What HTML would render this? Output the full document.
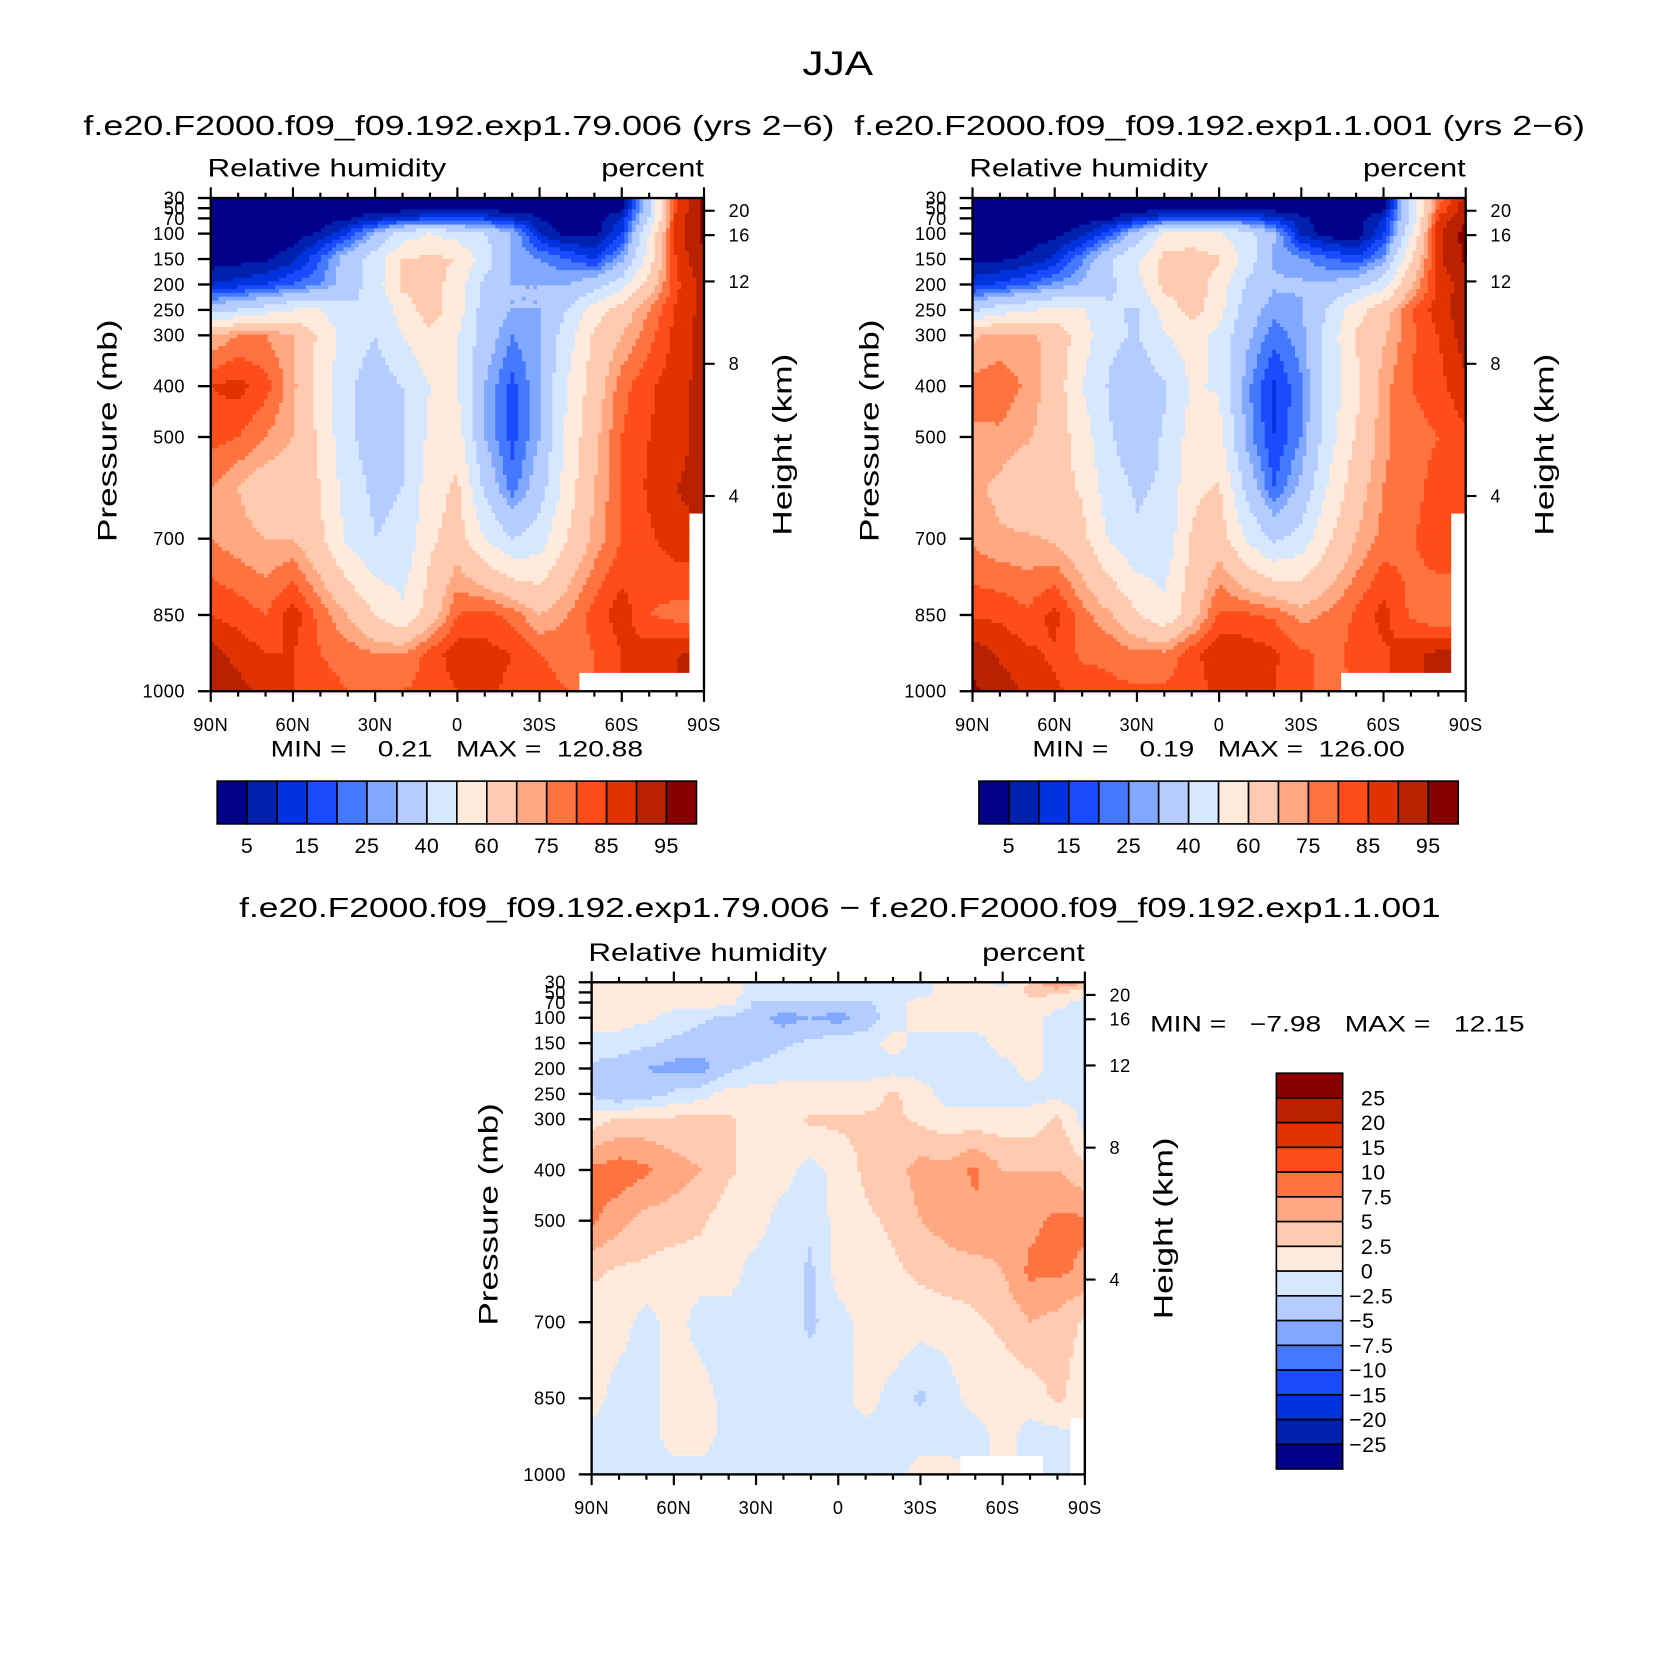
<!DOCTYPE html>
<html><head><meta charset="utf-8"><style>
html,body{margin:0;padding:0;background:#fff;}
svg text{font-family:"Liberation Sans",sans-serif;fill:#000;}
</style></head><body>
<svg id="fig" xmlns="http://www.w3.org/2000/svg" width="1669" height="1666" viewBox="0 0 1560 1557">
<rect x="0" y="0" width="1560" height="1557" fill="#fff"/>
<text x="783" y="70" font-size="32" text-anchor="middle" textLength="66" lengthAdjust="spacingAndGlyphs">JJA</text>
</svg>
<script>
// ---------- data ----------
const lats = [90,80,70,60,50,40,30,20,10,0,-10,-20,-30,-40,-50,-60,-70,-80,-90];
const levels = [30,50,70,100,150,200,250,300,400,500,600,700,850,925,1000];
const rh1 = [
[2,2,2,2,2,2,2,2,2,2,2,2,2,2,2,2,40,85,96],
[2,2,2,2,2,2,2,2,2,2,2,2,2,2,2,2,40,85,96],
[2,2,2,2,2,4,8,12,15,15,14,10,5,2,2,10,40,88,96],
[2,2,2,2,6,15,30,45,50,45,40,30,10,3,3,15,50,88,96],
[2,3,4,8,20,35,45,60,62,60,45,30,25,20,15,28,55,86,95],
[10,12,15,20,25,35,45,62,65,55,38,30,30,30,35,45,65,84,92],
[35,40,45,50,50,42,40,55,65,55,35,30,30,40,55,65,75,86,92],
[70,75,75,70,58,45,40,50,58,50,35,25,30,45,62,70,78,87,92],
[85,87,82,72,55,42,35,40,50,50,30,18,30,50,65,78,84,88,92],
[82,80,75,70,58,42,35,40,52,55,30,18,30,52,68,80,85,88,92],
[75,70,65,65,60,45,38,40,55,62,38,22,35,55,70,80,86,90,92],
[75,72,70,70,62,48,40,42,58,65,50,40,45,60,72,80,84,88,null],
[85,83,80,88,78,70,60,52,65,80,82,78,70,75,82,88,80,78,null],
[92,88,85,85,80,78,75,75,82,88,87,85,80,78,80,85,88,90,null],
[95,92,88,85,82,80,80,80,82,85,86,84,82,80,null,null,null,null,null]];
const rh2 = [
[2,2,2,2,2,2,2,2,2,2,2,2,2,2,2,2,42,78,92],
[2,2,2,2,2,2,2,2,2,2,2,2,2,2,2,2,42,80,94],
[2,2,2,2,2,4,10,15,18,18,17,12,6,2,2,10,42,86,95],
[2,2,2,3,8,18,34,51,55,51,44,31,9,2,2,14,49,89,97],
[3,4,6,11,24,39,49,63,64,61,46,29,26,21,16,27,59,89,96],
[13,16,20,26,31,38,47,63,66,56,39,31,31,31,36,46,69,86,93],
[38,45,49,52,51,41,39,54,64,54,34,27,29,41,56,66,79,88,93],
[69,72,72,67,55,42,39,49,55,47,32,22,28,44,61,69,79,85,93],
[77,78,74,66,50,39,34,39,51,49,27,14,24,44,57,73,80,83,89],
[74,74,71,66,55,41,34,41,54,54,28,15,25,46,61,74,78,80,84],
[72,68,63,64,59,44,39,41,58,61,37,20,32,51,66,75,78,82,85],
[74,71,71,69,63,49,41,43,61,66,49,38,44,59,70,77,79,84,null],
[84,84,81,87,77,71,61,53,66,81,81,79,73,76,81,87,79,75,null],
[93,89,86,84,79,79,76,76,83,89,88,86,81,79,81,84,89,91,null],
[96,93,89,86,83,81,81,81,83,86,87,85,81,79,null,null,null,null,null]];
const rhDiff = [
[1,1,1,1,1,1,-1,-1,-1,-1,-1,-1,-1,1,1,-1,3,8,5],
[1,1,1,1,1,1,-1,-1,-1,-1,-1,-1,-1,1,1,1,3,3,1],
[1,1,1,1,1,1,-3,-3,-3,-3,-3,-1,1,1,1,1,2,1,-1],
[1,1,0.5,-1,-2,-3,-4,-6,-5,-6,-4,-1,1,1,1,1,1,-1,-1],
[-1,-1,-2,-3,-4,-4,-4,-3,-2,-1,-1,1,-1,-1,-1,1,1,-1,-1],
[-3,-4,-5,-6,-6,-3,-2,-1,-1,-1,-1,-1,-1,-1,-1,-1,1,-1,-1],
[-3,-5,-4,-2,-1,1,1,1,1,1,1,3,1,-1,-1,-1,-1,-1,-1],
[1,3,3,3,3,3,1,1,3,3,3,3,2,1,1,1,1,3,-1],
[8,9,8,6,5,3,1,1,-1,1,3,4,6,6,8,5,5,5,3],
[8,6,4,4,3,1,1,-1,-2,1,2,3,5,6,7,6,7,8,8],
[3,2,2,1,1,1,-1,-1,-3,1,1,2,3,4,4,5,8,8,7],
[1,1,-1,1,-1,-1,-1,-1,-3,-1,1,2,1,1,2,3,5,4,2],
[1,-1,-1,1,1,-1,-1,-1,-1,-1,1,-1,-3,-1,1,1,1,3,1],
[-1,-1,-1,1,1,-1,-1,-1,-1,-1,-1,-1,-1,-1,-1,1,-1,-1,null],
[-1,-1,-1,-1,-1,-1,-1,-1,-1,-1,-1,-1,1,1,null,null,null,-1,null]];
const rhLevels = [5,10,15,20,25,30,40,50,60,70,75,80,85,90,95];
const rhLabels = ["5","15","25","40","60","75","85","95"];
const diffLevels = [-25,-20,-15,-10,-7.5,-5,-2.5,0,2.5,5,7.5,10,15,20,25];
const diffLabels = ["25","20","15","10","7.5","5","2.5","0","\u22122.5","\u22125","\u22127.5","\u221210","\u221215","\u221220","\u221225"];
const palette = ["#00008a","#0020b0","#0033dd","#1a4cff","#4478ff","#80a8ff","#b4ccff","#d6e8ff","#ffeadb","#ffcab0","#ffa881","#ff7340","#ff4d1a","#e03300","#b82200","#8a0000"];
const pTicks = [30,50,70,100,150,200,250,300,400,500,700,850,1000];
const latTicks = [90,60,30,0,-30,-60,-90];
const latTickLabels = ["90N","60N","30N","0","30S","60S","90S"];
const heightKm = [20,16,12,8,4];
const heightP = [55,103,194,356,616];

// ---------- drawing ----------
const NS="http://www.w3.org/2000/svg";
const svg=document.getElementById('fig');
function mk(tag,attrs,parent){const e=document.createElementNS(NS,tag);for(const k in attrs)e.setAttribute(k,attrs[k]);(parent||svg).appendChild(e);return e;}
function txt(str,x,y,size,anchor,parent,extra){const t=mk('text',Object.assign({x:x,y:y,'font-size':size,'text-anchor':anchor||'start'},extra||{}),parent);t.textContent=str;return t;}

function colorIdx(v,lv){let i=0;while(i<lv.length&&v>=lv[i])i++;return i;}
function sample(grid,lat,p){
  let j=0;while(j<lats.length-2&&lat<lats[j+1])j++;
  let i=0;while(i<levels.length-2&&p>levels[i+1])i++;
  const fx=(lats[j]-lat)/(lats[j]-lats[j+1]);
  const fy=(p-levels[i])/(levels[i+1]-levels[i]);
  const nj=fx<0.5?j:j+1, ni=fy<0.5?i:i+1;
  if(grid[ni][nj]===null)return null;
  const c=[[grid[i][j],(1-fx)*(1-fy)],[grid[i][j+1],fx*(1-fy)],[grid[i+1][j],(1-fx)*fy],[grid[i+1][j+1],fx*fy]];
  let s=0,w=0;for(const [v,ww] of c){if(v!==null){s+=v*ww;w+=ww;}}
  return w>0?s/w:null;
}

function panel(name,grid,lv,x0,y0,W,H){
  const g=mk('g',{});
  
  
  const xs=lat=>x0+(90-lat)/180*W;
  const ys=p=>y0+(p-30)/970*H;
  const NX=130,NY=130,dx=W/NX,dy=H/NY;
  for(let r=0;r<NY;r++){
    const p=30+(r+0.5)/NY*970;
    let runStart=0,runC=null;
    for(let c=0;c<=NX;c++){
      let ci=null;
      if(c<NX){const lat=90-(c+0.5)/NX*180;const v=sample(grid,lat,p);ci=v===null?null:colorIdx(v,lv);}
      if(c===NX||ci!==runC){
        if(runC!==null&&c>runStart){
          const rc=mk('rect',{x:(x0+runStart*dx).toFixed(2),y:(y0+r*dy).toFixed(2),width:((c-runStart)*dx+0.6).toFixed(2),height:(dy+0.6).toFixed(2),fill:palette[runC]},g);
          
          
        }
        runStart=c;runC=ci;
      }
    }
  }
  const fr=mk('rect',{x:x0,y:y0,width:W,height:H,fill:'none',stroke:'#000','stroke-width':2.2},g);
  
  
  for(let lat=90;lat>=-90;lat-=10){
    const x=xs(lat);const major=lat%30===0;const L=major?10:5;
    mk('line',{x1:x,y1:y0+H,x2:x,y2:y0+H+L,stroke:'#000','stroke-width':2},g);
    mk('line',{x1:x,y1:y0,x2:x,y2:y0-L,stroke:'#000','stroke-width':2},g);
  }
  latTicks.forEach((lat,k)=>{
    const t=txt(latTickLabels[k],xs(lat),y0+H+37,17,'middle',g,{'letter-spacing':'0.5'});
    
    
  });
  pTicks.forEach(p=>{
    const y=ys(p);
    mk('line',{x1:x0-12,y1:y,x2:x0,y2:y,stroke:'#000','stroke-width':2.2},g);
    const t=txt(String(p),x0-24,y+6,17,'end',g,{'letter-spacing':'0.5'});
    
    
  });
  heightKm.forEach((h,k)=>{
    const y=ys(heightP[k]);
    mk('line',{x1:x0+W,y1:y,x2:x0+W+10,y2:y,stroke:'#000','stroke-width':2},g);
    const t=txt(String(h),x0+W+23,y+6,17,'start',g,{'letter-spacing':'0.5'});
    
    
  });
  const lt=txt('Relative humidity',x0-3,y0-20,23,'start',g,{textLength:223,lengthAdjust:'spacingAndGlyphs'});
  
  
  const ut=txt('percent',x0+W,y0-20,23,'end',g,{textLength:96,lengthAdjust:'spacingAndGlyphs'});
  
  
  const ya=txt('Pressure (mb)',0,0,25,'middle',g,{transform:`translate(${x0-88},${y0+H/2-13}) rotate(-90)`,textLength:208,lengthAdjust:'spacingAndGlyphs'});
  
  
  const ya2=txt('Height (km)',0,0,25,'middle',g,{transform:`translate(${x0+W+82},${y0+H/2}) rotate(-90)`,textLength:170,lengthAdjust:'spacingAndGlyphs'});
  
  
  return g;
}

function hbar(name,x0,y0,W,H){
  const g=mk('g',{});
  
  
  const bw=W/palette.length;
  palette.forEach((c,k)=>{
    const r=mk('rect',{x:x0+k*bw,y:y0,width:bw,height:H,fill:c,stroke:'#000','stroke-width':1.5},g);
    
    
  });
  rhLabels.forEach((l,k)=>{
    const t=txt(l,x0+(1+2*k)*bw,y0+H+27,20,'middle',g,{'letter-spacing':'0.5'});
    
    
  });
}
function vbar(name,x0,y0,W,H){
  const g=mk('g',{});
  
  
  const bh=H/palette.length;
  palette.slice().reverse().forEach((c,k)=>{
    const r=mk('rect',{x:x0,y:y0+k*bh,width:W,height:bh,fill:c,stroke:'#000','stroke-width':1.5},g);
    
    
  });
  diffLabels.forEach((l,k)=>{
    const t=txt(l,x0+W+(l.startsWith('\u2212')?6:17),y0+(k+1)*bh+7,20,'start',g,{'letter-spacing':'0.5'});
    
    
  });
}

panel('panel-exp79',rh1,rhLevels,197,185,461,461);
panel('panel-exp1',rh2,rhLevels,909,185,461,461);
panel('panel-difference',rhDiff,diffLevels,553,918,461,460);
hbar('colorbar-exp79',203,730,448,40);
hbar('colorbar-exp1',915,730,448,40);
vbar('colorbar-difference',1193,1003,62,370);

function label(name,str,x,y,size,anchor,len){const t=txt(str,x,y,size,anchor,svg,{textLength:len,lengthAdjust:'spacingAndGlyphs'});t.setAttribute('xml:space','preserve');t.style.whiteSpace='pre';return t;}
label('title-exp79','f.e20.F2000.f09_f09.192.exp1.79.006 (yrs 2\u22126)',429,126,26,'middle',702);
label('title-exp1','f.e20.F2000.f09_f09.192.exp1.1.001 (yrs 2\u22126)',1140,126,26,'middle',683);
label('title-difference','f.e20.F2000.f09_f09.192.exp1.79.006 \u2212 f.e20.F2000.f09_f09.192.exp1.1.001',785,857,26,'middle',1123);
label('minmax-exp79','MIN =    0.21   MAX =  120.88',427,707,21,'middle',348);
label('minmax-exp1','MIN =    0.19   MAX =  126.00',1139,707,21,'middle',348);
label('minmax-difference','MIN =   \u22127.98   MAX =   12.15',1075,964,21,'start',350);
</script>
</body></html>
